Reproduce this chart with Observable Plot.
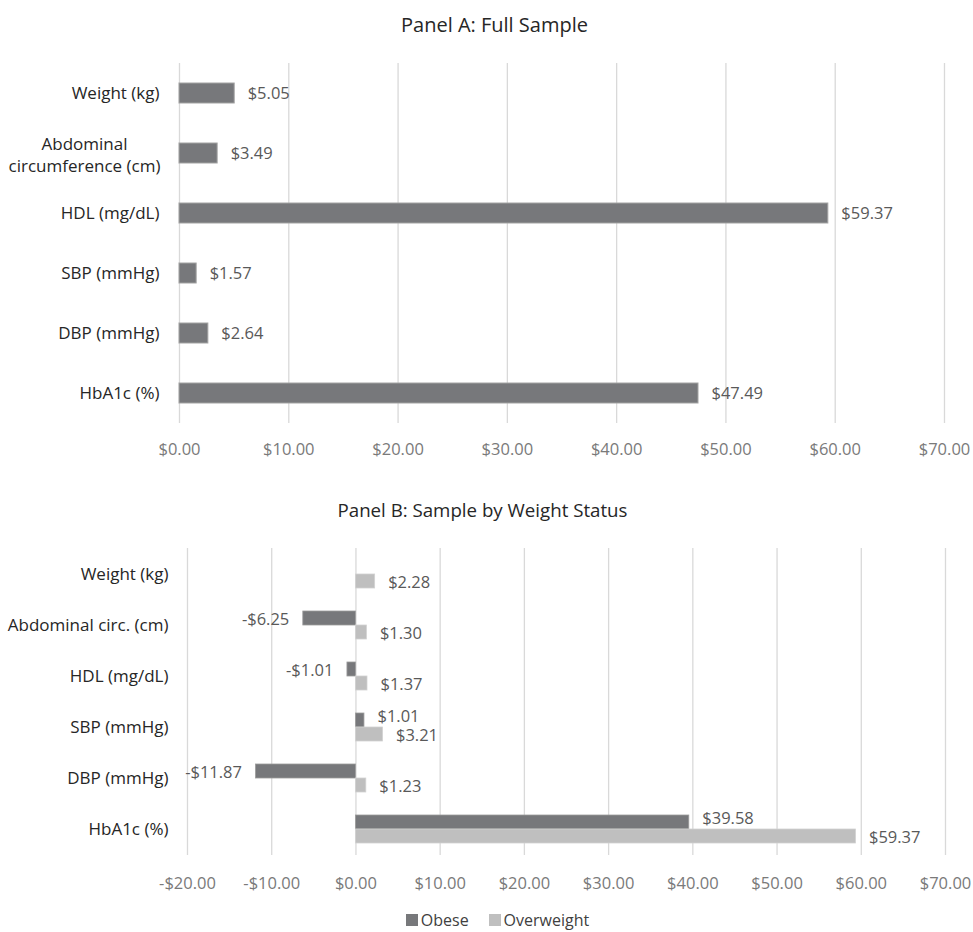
<!DOCTYPE html>
<html>
<head>
<meta charset="utf-8">
<script src="https://cdn.jsdelivr.net/npm/d3@7"></script>
<script src="https://cdn.jsdelivr.net/npm/@observablehq/plot@0.6"></script>
<style>
  body { margin: 0; background: #fff; font-family: "Open Sans", sans-serif; }
  #wrap { position: relative; width: 973px; height: 932px; overflow: hidden; }
  .title { position: absolute; left: 0; width: 973px; text-align: center; font-size: 19px; color: #262626; line-height: 26px; z-index: 2; box-sizing: border-box; }
  .chart { position: absolute; left: 0; z-index: 1; }
  #legend { position: absolute; top: 911px; left: 0; width: 973px; box-sizing: border-box; padding-left: 22px; display: flex; justify-content: center; font-size: 16px; color: #404040; line-height: 18px; z-index: 2; }
  #legend .item { display: flex; align-items: center; margin: 0 10px; }
  #legend .sw { width: 12px; height: 12px; margin-right: 3px; }
</style>
</head>
<body>
<div id="wrap">
  <div class="chart" id="chartA" style="top:0px"></div>
  <div class="chart" id="chartB" style="top:480px"></div>
  <div class="title" id="titleA" style="top:12px;font-size:20px;padding-left:16px">Panel A: Full Sample</div>
  <div class="title" id="titleB" style="top:497px;font-size:18.7px;padding-right:8px">Panel B: Sample by Weight Status</div>
  <div id="legend"></div>
</div>
<script>
// ---- Panel A data ----
const categoriesA = ["Weight (kg)", "Abdominal\ncircumference (cm)", "HDL (mg/dL)", "SBP (mmHg)", "DBP (mmHg)", "HbA1c (%)"];
const valuesA = [5.05, 3.49, 59.37, 1.57, 2.64, 47.49];
const ticksA = [0, 10, 20, 30, 40, 50, 60, 70];

// ---- Panel B data ----
const categoriesB = ["Weight (kg)", "Abdominal circ. (cm)", "HDL (mg/dL)", "SBP (mmHg)", "DBP (mmHg)", "HbA1c (%)"];
const seriesB = ["Obese", "Overweight"];
const obeseB = [null, -6.25, -1.01, 1.01, -11.87, 39.58];
const overweightB = [2.28, 1.30, 1.37, 3.21, 1.23, 59.37];
const ticksB = [-20, -10, 0, 10, 20, 30, 40, 50, 60, 70];

const colorsB = ["#77787b", "#bfbfbf"];
const gridColor = "#d9d9d9";
const catColor = "#262626";
const valColor = "#595959";
const tickColor = "#7a7a7a";

const fmt = v => (v < 0 ? "-$" : "$") + Math.abs(v).toFixed(2);

// ---- Panel A ----
const rowsA = categoriesA.map((c, i) => ({category: c, value: valuesA[i]}));
const chartA = Plot.plot({
  width: 973,
  height: 470,
  marginTop: 63,
  marginBottom: 47,
  marginLeft: 179,
  marginRight: 29,
  style: {fontFamily: "Open Sans, sans-serif", background: "transparent"},
  x: {domain: [0, 70], label: null},
  y: {domain: categoriesA, paddingInner: 0.66, paddingOuter: 0.33, axis: null, label: null},
  marks: [
    Plot.ruleX(ticksA, {stroke: gridColor, strokeWidth: 1.3}),
    Plot.axisX({ticks: ticksA, tickSize: 0, tickPadding: 20, tickFormat: fmt, color: tickColor, fontSize: 16.5, label: null}),
    Plot.barX(rowsA, {x: "value", y: "category", fill: colorsB[0], stroke: "#a3a3a3", strokeWidth: 1}),
    Plot.text(rowsA, {x: "value", y: "category", text: d => fmt(d.value), textAnchor: "start", dx: 13, fill: valColor, fontSize: 16.5}),
    Plot.text(rowsA.filter(d => !d.category.includes("\n")), {y: "category", frameAnchor: "left", dx: -20, textAnchor: "end", text: "category", fill: catColor, fontSize: 17}),
    Plot.text(rowsA.filter(d => d.category.includes("\n")), {y: "category", frameAnchor: "left", dx: -95, textAnchor: "middle", lineHeight: 1.3, text: "category", fill: catColor, fontSize: 17})
  ]
});
document.getElementById("chartA").appendChild(chartA);

// ---- Panel B ----
const rowsB = categoriesB.flatMap((c, i) => [
  {category: c, series: seriesB[0], value: obeseB[i]},
  {category: c, series: seriesB[1], value: overweightB[i]}
]).filter(d => d.value != null);
const obeseRows = rowsB.filter(d => d.series === seriesB[0]);
const overRows = rowsB.filter(d => d.series === seriesB[1]);

const chartB = Plot.plot({
  width: 973,
  height: 420,
  marginTop: 68,
  marginBottom: 45,
  marginLeft: 187,
  marginRight: 28,
  style: {fontFamily: "Open Sans, sans-serif", background: "transparent"},
  x: {domain: [-20, 70], label: null},
  y: {domain: categoriesB, paddingInner: 0.453, paddingOuter: 0.2265, axis: null, label: null},
  color: {domain: seriesB, range: colorsB},
  marks: [
    Plot.ruleX(ticksB, {stroke: gridColor, strokeWidth: 1.3}),
    Plot.axisX({ticks: ticksB, tickSize: 0, tickPadding: 22, tickFormat: fmt, color: tickColor, fontSize: 16.5, label: null}),
    Plot.barX(obeseRows, {x: "value", y: "category", fill: "series", insetBottom: 14, stroke: "#9c9c9c", strokeWidth: 0.8}),
    Plot.barX(overRows, {x: "value", y: "category", fill: "series", insetTop: 14, stroke: "#d2d2d2", strokeWidth: 0.8}),
    Plot.text(obeseRows.filter(d => d.value < 0), {x: "value", y: "category", text: d => fmt(d.value), textAnchor: "end", dx: -14, dy: -6, fill: valColor, fontSize: 16.5}),
    Plot.text(obeseRows.filter(d => d.value >= 0), {x: "value", y: "category", text: d => fmt(d.value), textAnchor: "start", dx: 13, dy: -11, fill: valColor, fontSize: 16.5}),
    Plot.text(overRows, {x: "value", y: "category", text: d => fmt(d.value), textAnchor: "start", dx: 13, dy: 8, fill: valColor, fontSize: 16.5}),
    Plot.text(categoriesB, {y: d => d, frameAnchor: "left", dx: -19, textAnchor: "end", text: d => d, fill: catColor, fontSize: 17})
  ]
});
document.getElementById("chartB").appendChild(chartB);

// ---- Legend ----
const legend = d3.select("#legend");
seriesB.forEach((s, i) => {
  const item = legend.append("div").attr("class", "item");
  item.append("div").attr("class", "sw").style("background", colorsB[i]);
  item.append("span").text(s);
});
</script>
</body>
</html>
